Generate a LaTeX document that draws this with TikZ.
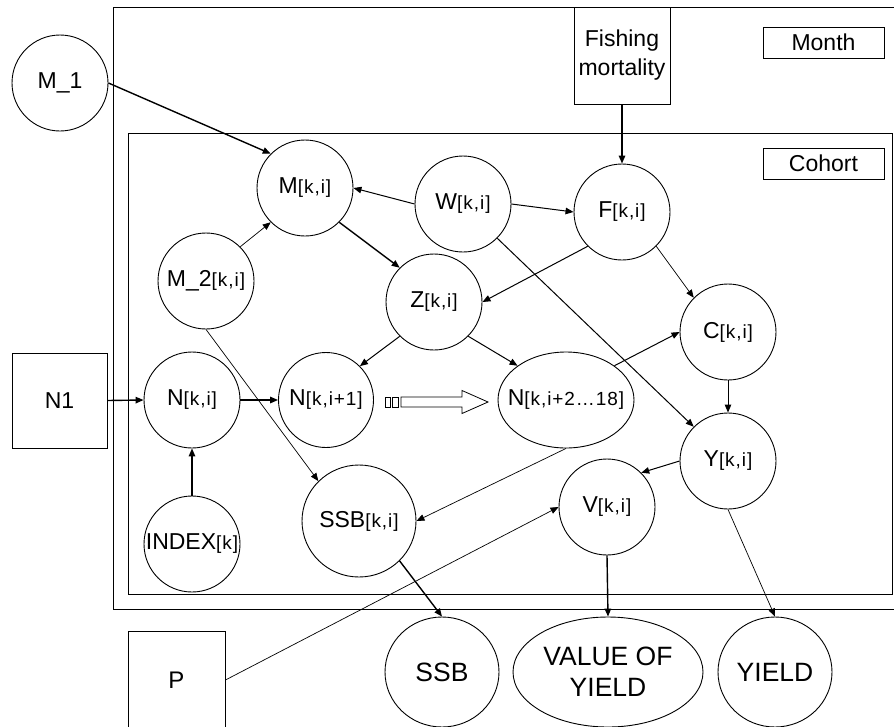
\documentclass[tikz,border=0pt]{standalone}
\usepackage{fontspec}
\setmainfont{Liberation Sans}
\newfontfamily\ixfont[LetterSpace=5]{Liberation Sans}
\usetikzlibrary{arrows.meta,shapes.geometric}
\newcommand\ixs[1]{{\ixfont\fontsize{19}{21}\selectfont #1}}
\begin{document}
\begin{tikzpicture}[x=1pt,y=-1pt,
  every node/.style={font=\fontsize{23}{29}\selectfont, inner sep=0pt},
  var/.style={circle, draw, line width=0.9pt, minimum size=96pt},
  ovar/.style={ellipse, draw, line width=0.9pt},
  outvar/.style={ellipse, draw, line width=0.9pt, font=\fontsize{26.5}{31}\selectfont, align=center},
  box/.style={rectangle, draw, line width=0.9pt},
  arr/.style={-{Triangle[length=8pt,width=6.5pt]}, line width=1pt},
  thinarr/.style={-{Triangle[length=8pt,width=6.5pt]}, line width=0.7pt},
  thickarr/.style={-{Triangle[length=8pt,width=6.5pt]}, line width=1.4pt}
]
\useasboundingbox (0,0) rectangle (894,726);

% plates
\draw[line width=1pt] (900,7) -- (113,7) -- (113,609) -- (900,609);
\draw[line width=1pt] (128,133) rectangle (892,594);
\node[box, minimum width=121pt, minimum height=31pt] (month) at (823.5,42.5) {Month};
\node[box, minimum width=121pt, minimum height=31pt] (cohort) at (823.5,163.5) {Cohort};

% fixed inputs
\node[box, minimum width=96pt, minimum height=97pt, align=center] (fish) at (622,55.5) {Fishing\\mortality};
\node[box, minimum width=95pt, minimum height=95pt] (n1) at (59.5,400.5) {N1};
\node[box, minimum width=97pt, minimum height=98pt, font=\fontsize{24}{28}\selectfont] (p) at (176.5,680) {P};
\node[var] (m1) at (60,83) {M\_1};

% cohort variables
\node[var] (m) at (305,188) {\makebox[0pt]{M\ixs{[k,i]}}};
\node[var] (w) at (463,204) {\makebox[0pt]{W\ixs{[k,i]}}};
\node[var] (f) at (622,212) {\makebox[0pt]{F\ixs{[k,i]}}};
\node[var] (m2) at (206,281) {\makebox[0pt]{M\_2\ixs{[k,i]}}};
\node[var] (z) at (434,302) {\makebox[0pt]{Z\ixs{[k,i]}}};
\node[var] (nki) at (192,400) {\makebox[0pt]{N\ixs{[k,i]}}};
\node[var, minimum size=95pt] (nk1) at (326,400) {\makebox[0pt]{N\ixs{[k,i+1]}}};
\node[ovar, minimum width=136pt, minimum height=96pt] (n2) at (566,400) {\makebox[0pt]{N\ixs{[k,i+2…18]}}};
\node[var] (c) at (728,332) {\makebox[0pt]{C\ixs{[k,i]}}};
\node[var] (y) at (728,461) {\makebox[0pt]{Y\ixs{[k,i]}}};
\node[var] (v) at (607,507) {\makebox[0pt]{V\ixs{[k,i]}}};
\node[ovar, minimum width=114pt, minimum height=112pt] (ssbki) at (359,521) {\makebox[0pt]{SSB\ixs{[k,i]}}};
\node[var] (index) at (192,544) {\makebox[0pt]{INDEX\ixs{[k]}}};

% outputs
\node[outvar, minimum width=114pt, minimum height=110pt] (ssb) at (442,672) {SSB};
\node[outvar, minimum width=190pt, minimum height=110pt] (voy) at (608,672) {VALUE OF\\YIELD};
\node[outvar, minimum width=114pt, minimum height=110pt] (yield) at (775,672) {YIELD};

% block arrow N[k,i+1] => N[k,i+2...18]
\draw[line width=0.8pt] (401,397) -- (462,397) -- (462,390.5) -- (488,402) -- (462,413.5) -- (462,407) -- (401,407) -- cycle;
\draw[line width=0.8pt] (385,397) rectangle (390,407);
\draw[line width=0.8pt] (392,397) rectangle (398,407);

% connectors
\draw[thickarr] (m1.east) -- (m.north west);
\draw[arr] (w.west) -- (m.east);
\draw[thinarr] (m2.north east) -- (m.south west);
\draw[thickarr] (m.south east) -- (z.north west);
\draw[arr] (w.east) -- (f.west);
\draw[thickarr] (fish.south) -- (f.north);
\draw[arr] (f.south west) -- (z.east);
\draw[arr] (w.south east) -- (y.north west);
\draw[thinarr] (f.south east) -- (c.north west);
\draw[arr] (z.south west) -- (nk1.north east);
\draw[arr] (z.south east) -- (n2.north west);
\draw[thickarr] (n1.east) -- (nki.west);
\draw[thickarr] (nki.east) -- (nk1.west);
\draw[thickarr] (index.north) -- (nki.south);
\draw[thinarr] (m2.south) -- (ssbki.north west);
\draw[thinarr] (n2.south) -- (ssbki.east);
\draw[arr] (n2.north east) -- (c.west);
\draw[arr] (c.south) -- (y.north);
\draw[arr] (y.west) -- (v.north east);
\draw[thinarr] (p.east) -- (v.west);
\draw[thickarr] (ssbki.south east) -- (ssb.north);
\draw[thickarr] (v.south) -- (voy.north);
\draw[thinarr] (y.south) -- (yield.north);
\end{tikzpicture}
\end{document}
